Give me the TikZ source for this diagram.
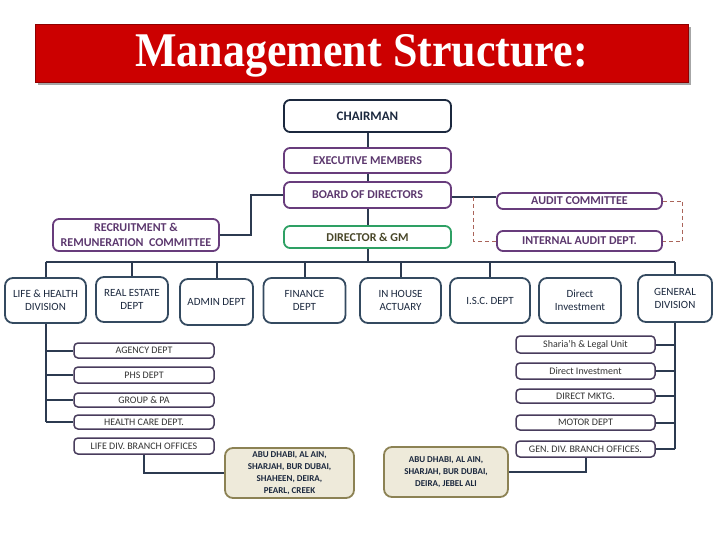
\documentclass[tikz,border=0pt]{standalone}
\usepackage{fontspec}
\setmainfont{Carlito}
\newfontfamily\titlefont{Liberation Serif}
\usetikzlibrary{calc}
\definecolor{navy}{RGB}{27,40,62}
\definecolor{purp}{RGB}{104,60,124}
\definecolor{purptext}{RGB}{92,56,110}
\definecolor{grn}{RGB}{46,160,100}
\definecolor{olivetext}{RGB}{72,70,40}
\definecolor{slate}{RGB}{52,74,96}
\definecolor{conn}{RGB}{44,58,80}
\definecolor{subbord}{RGB}{72,60,92}
\definecolor{beige}{RGB}{238,234,218}
\definecolor{olivebord}{RGB}{140,130,84}
\definecolor{dashc}{RGB}{170,100,90}
\definecolor{titlered}{RGB}{204,0,0}
\tikzset{
  bx/.style={draw, line width=1.8pt, rounded corners=6pt, inner sep=1pt, align=center},
  topbox/.style={bx, draw=navy, text=navy, font=\fontsize{13}{15}\selectfont\bfseries},
  purpbox/.style={bx, draw=purp, text=purptext, font=\fontsize{12}{14.5}\selectfont\bfseries},
  greenbox/.style={bx, draw=grn, text=olivetext, font=\fontsize{12}{14.5}\selectfont\bfseries},
  deptbox/.style={bx, draw=slate, text=navy, rounded corners=8pt, font=\fontsize{11}{13.5}\selectfont},
  subbox/.style={bx, line width=1.5pt, draw=subbord, text=black!80, rounded corners=4pt, font=\fontsize{10}{11}\selectfont},
  cityb/.style={bx, draw=olivebord, fill=beige, text=navy, rounded corners=8pt, font=\fontsize{9}{12}\selectfont\bfseries},
  link/.style={draw=conn, line width=2pt},
  dlink/.style={draw=dashc, line width=0.9pt, dash pattern=on 4pt off 3pt},
}
\begin{document}
\begin{tikzpicture}[x=1pt,y=-1pt]
\useasboundingbox (0,0) rectangle (720,540);
% title
\fill[black!35] (38,27) rectangle (691,85);
\fill[titlered] (35,24) rectangle (688,82);
\draw[titlered!70!black, line width=0.8pt] (35,24) rectangle (688,82);
\node[text=white, font=\titlefont\fontsize{44}{48}\selectfont\bfseries] (title) at (361.5,56) {\scalebox{1}[1.1]{Management Structure:}};
% top chain
\node[topbox, minimum width=167pt, minimum height=32pt] (chair) at (367.5,116) {CHAIRMAN};
\node[purpbox, minimum width=167pt, minimum height=25pt] (exec) at (367.5,160.5) {EXECUTIVE MEMBERS};
\node[purpbox, minimum width=167pt, minimum height=26pt] (board) at (367.5,195) {BOARD OF DIRECTORS};
\node[greenbox, minimum width=167pt, minimum height=22pt] (dgm) at (367.5,237) {DIRECTOR \& GM};
\node[purpbox, minimum width=165pt, minimum height=16pt] (audit) at (579.5,201) {AUDIT COMMITTEE};
\node[purpbox, minimum width=165pt, minimum height=20pt] (iaudit) at (579.5,241) {INTERNAL AUDIT DEPT.};
\node[purpbox, minimum width=166pt, minimum height=32pt] (recruit) at (136,235) {RECRUITMENT \&\\REMUNERATION\ \ COMMITTEE};
% department row
\node[deptbox, minimum width=81pt, minimum height=45pt] (life) at (45.5,300.5) {LIFE \& HEALTH\\DIVISION};
\node[deptbox, minimum width=72pt, minimum height=45pt] (realest) at (132,299.5) {REAL ESTATE\\DEPT};
\node[deptbox, minimum width=73pt, minimum height=46pt] (admin) at (216.5,302) {ADMIN DEPT};
\node[deptbox, minimum width=82pt, minimum height=45pt] (finance) at (304.5,300.5) {FINANCE\\DEPT};
\node[deptbox, minimum width=81pt, minimum height=45pt] (inhouse) at (400.5,300.5) {IN HOUSE\\ACTUARY};
\node[deptbox, minimum width=80pt, minimum height=45pt] (isc) at (490,300.5) {I.S.C. DEPT};
\node[deptbox, minimum width=82pt, minimum height=45pt] (dinv) at (580,300.5) {Direct\\Investment};
\node[deptbox, minimum width=74pt, minimum height=47pt] (general) at (675,298.5) {GENERAL\\DIVISION};
% left sub boxes
\node[subbox, minimum width=140pt, minimum height=15pt] (agency) at (144,350.5) {AGENCY DEPT};
\node[subbox, minimum width=140pt, minimum height=16pt] (phs) at (144,375) {PHS DEPT};
\node[subbox, minimum width=140pt, minimum height=14pt] (group) at (144,400) {GROUP \& PA};
\node[subbox, minimum width=140pt, minimum height=14pt] (health) at (144,422) {HEALTH CARE DEPT.};
\node[subbox, minimum width=140pt, minimum height=16pt] (lifebr) at (144,446) {LIFE DIV. BRANCH OFFICES};
% right sub boxes
\node[subbox, minimum width=139pt, minimum height=17pt] (sharia) at (585.5,344.5) {Sharia’h \& Legal Unit};
\node[subbox, minimum width=139pt, minimum height=16pt] (rdinv) at (585.5,371) {Direct Investment};
\node[subbox, minimum width=139pt, minimum height=14pt] (dmktg) at (585.5,396) {DIRECT MKTG.};
\node[subbox, minimum width=139pt, minimum height=15pt] (motor) at (585.5,422.5) {MOTOR DEPT};
\node[subbox, minimum width=139pt, minimum height=16pt] (genbr) at (585.5,449) {GEN. DIV. BRANCH OFFICES.};
% city boxes
\node[cityb, minimum width=129pt, minimum height=50pt] (abu1) at (289.5,473) {ABU DHABI, AL AIN,\\SHARJAH, BUR DUBAI,\\SHAHEEN, DEIRA,\\PEARL, CREEK};
\node[cityb, minimum width=124pt, minimum height=50pt] (abu2) at (446,472) {ABU DHABI, AL AIN,\\SHARJAH, BUR DUBAI,\\DEIRA, JEBEL ALI};
% connectors
\coordinate (bus) at (0,262);
\coordinate (bj) at (473,197);
\draw[link] (chair.south) -- (exec.north);
\draw[link] (exec.south) -- (board.north);
\draw[link] (board.south) -- (dgm.north);
\draw[link] (dgm.south) -- (dgm.south |- bus);
\draw[link] (life.north |- bus) -- (general.north |- bus);
\foreach \n in {life,realest,admin,finance,inhouse,isc,general}
  \draw[link] (\n.north |- bus) -- (\n.north);
\draw[link] (board.west) -- ++(-32,0) |- (recruit.east);
\draw[link] (board.east |- bj) -- (audit.west |- bj);
\draw[dlink] (bj) |- (iaudit.west);
\draw[dlink] (audit.east) -- ++(20,0) |- (iaudit.east);
% left spine
\draw[link] (life.south) -- (life.south |- health.west);
\foreach \n in {agency,phs,group,health}
  \draw[link] (life.south |- \n.west) -- (\n.west);
% right spine
\draw[link] (general.south) -- (general.south |- genbr.east);
\foreach \n in {sharia,rdinv,dmktg,motor,genbr}
  \draw[link] (general.south |- \n.east) -- (\n.east);
% branches
\draw[link] (lifebr.south) |- (abu1.west);
\draw[link] (genbr.south) |- (abu2.east);
\end{tikzpicture}
\end{document}
